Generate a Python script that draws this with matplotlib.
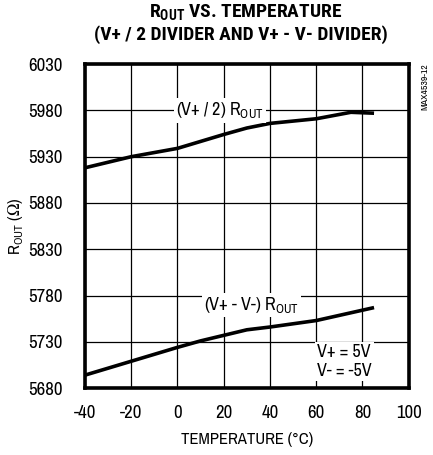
import numpy as np
import matplotlib
matplotlib.use("Agg")
import matplotlib.pyplot as plt

plt.rcParams['font.family'] = ['Archivo Narrow', 'Liberation Sans', 'DejaVu Sans']
plt.rcParams['mathtext.fontset'] = 'custom'
plt.rcParams['mathtext.rm'] = 'Archivo Narrow'
plt.rcParams['mathtext.bf'] = 'Roboto Condensed:bold'
plt.rcParams['axes.unicode_minus'] = False

# ---- data ----
temp_half = [-40, -20, 0, 20, 30, 40, 60, 75, 85]
rout_half = [5918, 5930, 5939, 5954, 5961, 5966, 5971, 5978, 5977]

temp_diff = [-40, -20, 0, 10, 20, 30, 40, 60, 85]
rout_diff = [5694, 5709, 5724, 5731, 5737, 5743, 5746, 5753, 5767]

xticks = [-40, -20, 0, 20, 40, 60, 80, 100]
yticks = [5680, 5730, 5780, 5830, 5880, 5930, 5980, 6030]

fig = plt.figure(figsize=(4.33, 4.55), dpi=100)
ax = fig.add_axes([0.196, 0.147, 0.748, 0.712])

ax.plot(temp_half, rout_half, color="black", lw=2.6, solid_capstyle="butt", zorder=3)
ax.plot(temp_diff, rout_diff, color="black", lw=2.6, solid_capstyle="butt", zorder=3)

ax.set_xlim(-40, 100)
ax.set_ylim(5680, 6030)
ax.set_xticks(xticks)
ax.set_yticks(yticks)
ax.tick_params(length=0, labelsize=13.5)
ax.tick_params(axis="y", pad=16)
ax.tick_params(axis="x", pad=12)
ax.grid(color="black", lw=0.9)
ax.set_axisbelow(True)
for s in ax.spines.values():
    s.set_linewidth(2.6)

ax.set_xlabel("TEMPERATURE (°C)", fontsize=12, labelpad=8)
ax.set_ylabel(r"R$_{\mathregular{OUT}}$ ($\mathregular{\Omega}$)", fontsize=12, labelpad=2)

box = dict(facecolor="white", edgecolor="none", pad=1.5)
ax.text(18.5, 5980, r"(V+ / 2) R$_{\mathregular{OUT}}$", fontsize=13, ha="center",
        va="center", bbox=box, zorder=4)
ax.text(32, 5770, r"(V+ - V-) R$_{\mathregular{OUT}}$", fontsize=13, ha="center",
        va="center", bbox=box, zorder=4)
ax.text(60.5, 5709, "V+ = 5V\nV- = -5V", fontsize=13, ha="left", va="center",
        linespacing=1.2, bbox=box, zorder=4)

fig.text(0.982, 0.86, "MAX4539-12", rotation=90, fontsize=7, ha="center", va="top")

title_font = ['Roboto Condensed', 'Asap Condensed', 'DejaVu Sans']
fig.text(0.567, 0.972, r"R$_{\mathbf{OUT}}$ VS. TEMPERATURE", fontsize=14,
         fontweight="bold", family=title_font, ha="center", va="center")
fig.text(0.557, 0.925, "(V+ / 2 DIVIDER AND V+ - V- DIVIDER)", fontsize=14,
         fontweight="bold", family=title_font, ha="center", va="center")

fig.savefig("out.png", dpi=100)
